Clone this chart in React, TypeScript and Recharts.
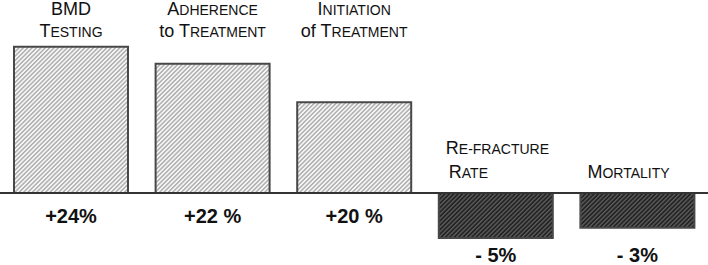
import { Bar, BarChart, Cell, LabelList, ReferenceLine, XAxis, YAxis } from "recharts";

// Category captions, one entry per text line (drawn as small caps).
const categoryLines = [
  ["BMD", "Testing"],
  ["Adherence", "to Treatment"],
  ["Initiation", "of Treatment"],
  ["Re-fracture", "Rate"],
  ["Mortality"],
];

// Printed change labels under each bar.
const changeLabels = ["+24%", "+22 %", "+20 %", "- 5%", "- 3%"];

// Drawn bar magnitudes (the figure is not to scale).
const barHeights = [24, 21.2, 14.9, -7.4, -5.7];

const rows = categoryLines.map((lines, i) => ({
  name: lines.join(" "),
  value: barHeights[i],
}));

const FONT = "'Liberation Sans', Arial, Helvetica, sans-serif";
const BIG = 18;
const SMALL = 14;

// Word-by-word small caps: lowercase words stay as they are, acronyms stay,
// other words get a full-size initial and a reduced uppercase tail.
function smallCaps(line: string) {
  const out: any[] = [];
  line.split(" ").forEach((word, wi) => {
    const sp = wi > 0 ? " " : "";
    if (word === word.toLowerCase() || word === word.toUpperCase()) {
      out.push(
        <tspan key={wi} fontSize={BIG}>
          {sp + word}
        </tspan>,
      );
    } else {
      out.push(
        <tspan key={wi + "a"} fontSize={BIG}>
          {sp + word[0]}
        </tspan>,
        <tspan key={wi + "b"} fontSize={SMALL}>
          {word.slice(1).toUpperCase()}
        </tspan>,
      );
    }
  });
  return out;
}

function baselineOf(props: any) {
  const y = Number(props.y);
  const h = Number(props.height);
  const v = barHeights[props.index];
  return v >= 0 ? Math.max(y, y + h) : Math.min(y, y + h);
}

function CategoryLabel(props: any) {
  const i = props.index;
  if (i == null) return null;
  const x = Number(props.x);
  const w = Number(props.width);
  const lines = categoryLines[i];
  const base = baselineOf(props);
  if (barHeights[i] >= 0) {
    return (
      <text
        textAnchor="middle"
        fontFamily={FONT}
        fill="#111"
        style={{ whiteSpace: "pre" }}
      >
        {lines.map((ln, k) => (
          <tspan key={k} x={x + w / 2} y={15 + k * 22}>
            {smallCaps(ln)}
          </tspan>
        ))}
      </text>
    );
  }
  // negative bars: caption sits just above the zero line, bottom aligned
  return (
    <text fontFamily={FONT} fill="#111" style={{ whiteSpace: "pre" }}>
      {lines.map((ln, k) => (
        <tspan
          key={k}
          x={x + 7 + (lines.length > 1 && k > 0 ? 3 : 0)}
          y={base - 15 - (lines.length - 1 - k) * 24}
        >
          {smallCaps(ln)}
        </tspan>
      ))}
    </text>
  );
}

function ChangeLabel(props: any) {
  const i = props.index;
  if (i == null) return null;
  const x = Number(props.x) + Number(props.width) / 2;
  const base = baselineOf(props);
  const y = barHeights[i] >= 0 ? base + 30 : base + 69;
  return (
    <text
      x={x}
      y={y}
      textAnchor="middle"
      fontFamily={FONT}
      fontWeight={700}
      fontSize={20}
      fill="#111"
      style={{ whiteSpace: "pre" }}
    >
      {changeLabels[i]}
    </text>
  );
}

export default function App() {
  return (
    <div style={{ position: "absolute", left: 0, top: 0, background: "#fff" }}>
      <BarChart
        width={708}
        height={265}
        data={rows}
        margin={{ top: 4, right: 0, bottom: 5, left: 0 }}
      >
        <defs>
          <pattern
            id="hatchLight"
            width={3.1}
            height={3.1}
            patternUnits="userSpaceOnUse"
            patternTransform="rotate(45)"
          >
            <rect width={3.1} height={3.1} fill="#f6f6f6" />
            <rect width={1.4} height={3.1} fill="#ababab" />
          </pattern>
          <pattern
            id="hatchDark"
            width={3.1}
            height={3.1}
            patternUnits="userSpaceOnUse"
            patternTransform="rotate(45)"
          >
            <rect width={3.1} height={3.1} fill="#242424" />
            <rect width={1.3} height={3.1} fill="#5e5e5e" />
          </pattern>
        </defs>
        <XAxis dataKey="name" hide />
        <YAxis hide domain={[-11, 31]} />
        <Bar dataKey="value" barSize={114} isAnimationActive={false}>
          {rows.map((r, i) => (
            <Cell
              key={i}
              fill={r.value >= 0 ? "url(#hatchLight)" : "url(#hatchDark)"}
              stroke="#484848"
              strokeWidth={2}
            />
          ))}
          <LabelList dataKey="name" content={CategoryLabel} />
          <LabelList dataKey="value" content={ChangeLabel} />
        </Bar>
        <ReferenceLine y={0} stroke="#333" strokeWidth={2} />
      </BarChart>
    </div>
  );
}
